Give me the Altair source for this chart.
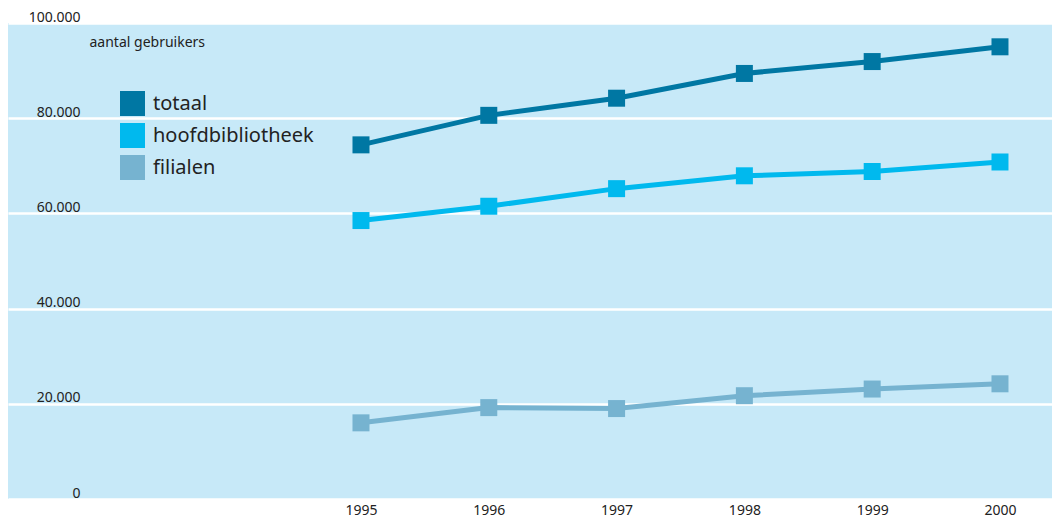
import altair as alt
import pandas as pd

years = [1995, 1996, 1997, 1998, 1999, 2000]
totaal = [74400, 80600, 84200, 89400, 91900, 95000]
hoofdbibliotheek = [58500, 61500, 65200, 67900, 68800, 70800]
filialen = [16000, 19200, 19000, 21700, 23100, 24200]

series_names = ["totaal", "hoofdbibliotheek", "filialen"]
series_colors = ["#0077A3", "#00B9EE", "#76B3D0"]
y_ticks = [0, 20000, 40000, 60000, 80000, 100000]

rows = []
for name, vals in zip(series_names, [totaal, hoofdbibliotheek, filialen]):
    for yr, v in zip(years, vals):
        rows.append({"jaar": yr, "waarde": v, "reeks": name})
df = pd.DataFrame(rows)

FONT = "Noto Sans"

x = alt.X(
    "jaar:Q",
    scale=alt.Scale(domain=[1992.238, 2000.407], nice=False, zero=False),
    axis=alt.Axis(
        values=years, format="d", title=None, grid=False, domain=False,
        ticks=False, labelPadding=4, labelFontSize=14, labelColor="#222",
        labelFont=FONT,
    ),
)
y = alt.Y(
    "waarde:Q",
    scale=alt.Scale(domain=[0, 100000], nice=False),
    axis=alt.Axis(
        values=y_ticks,
        labelExpr="replace(format(datum.value, ','), ',', '.')",
        title="aantal gebruikers", titleAngle=0, titleAlign="left",
        titleBaseline="middle", titleX=81, titleY=19, titleFontSize=14,
        titleFontWeight="normal", titleFont=FONT, titleColor="#222",
        grid=True, gridColor="white", gridWidth=2.5, domain=False,
        ticks=False, tickSize=0, labelPadding=-72, labelAlign="right",
        labelBaseline="alphabetic", labelOffset=-2, labelFontSize=14,
        labelColor="#222", labelFont=FONT,
    ),
)
color = alt.Color(
    "reeks:N",
    scale=alt.Scale(domain=series_names, range=series_colors),
    legend=alt.Legend(
        title=None, orient="none", legendX=112, legendY=68,
        symbolType="square", symbolSize=625, symbolStrokeWidth=0,
        symbolOpacity=1, labelFontSize=20, labelFont=FONT, labelLimit=400,
        labelColor="#222", labelOffset=8, rowPadding=7, padding=0,
    ),
)

base = alt.Chart(df)
lines = base.mark_line(strokeWidth=5).encode(x=x, y=y, color=color, detail="reeks:N")
points = base.mark_point(shape="square", filled=True, size=289, opacity=1).encode(
    x=x, y=y,
    color=alt.Color("reeks:N", scale=alt.Scale(domain=series_names, range=series_colors), legend=None),
)

chart = (
    alt.layer(lines, points)
    .properties(
        width=1044, height=476,
        padding={"left": 0, "top": 15, "right": 0, "bottom": 20},
        autosize=alt.AutoSizeParams(type="none"),
        background="white",
    )
    .configure_view(fill="#C7E9F8", stroke=None)
)

chart.save("out.html", embed_options={"renderer": "svg", "actions": False})
